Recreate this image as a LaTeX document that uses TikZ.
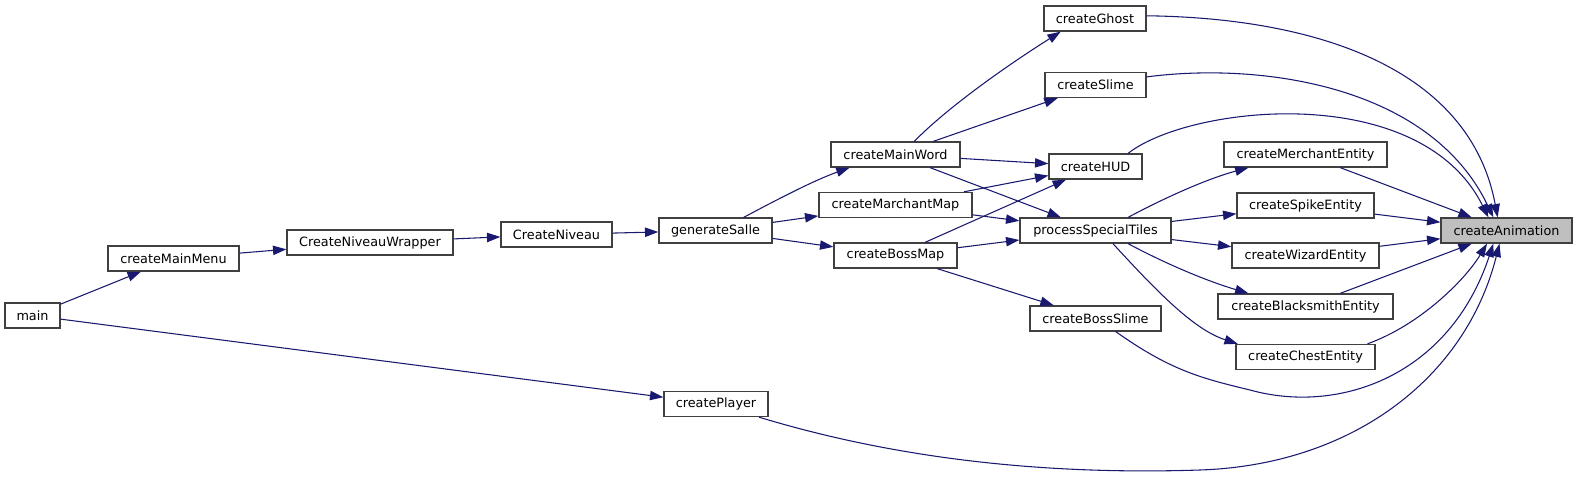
\documentclass[tikz,border=0pt]{standalone}
\usepackage{fontspec}
\setmainfont{DejaVu Sans}
\usetikzlibrary{arrows.meta}

\definecolor{edgeblue}{HTML}{191970}
\definecolor{boxgray}{HTML}{BFBFBF}

\begin{document}
\begin{tikzpicture}[>={Triangle[length=10pt,width=7pt]}, x=0.75pt, y=-0.75pt,
  fn/.style={draw=black!75, fill=white, line width=1pt, inner sep=0pt,
    minimum height=18.75pt, minimum width={#1*0.75pt},
    font=\fontsize{9.6}{11}\selectfont},
  call/.style={->, edgeblue, line width=0.8pt}]

\useasboundingbox (0,0) rectangle (1577,477);

% ============================================================
% Callers, left to right
% ============================================================
\node[fn=55]  (main)                at (32.5,315.5) {main};
\node[fn=131] (createMainMenu)      at (173.5,258.5) {createMainMenu};
\node[fn=166] (CreateNiveauWrapper) at (370,242.5) {CreateNiveauWrapper};
\node[fn=111] (CreateNiveau)        at (556.5,234.5) {CreateNiveau};
\node[fn=113] (generateSalle)       at (715.5,230.5) {generateSalle};
\node[fn=104] (createPlayer)        at (716,404) {createPlayer};

\node[fn=129] (createMainWord)    at (895.5,154.5) {createMainWord};
\node[fn=153] (createMarchantMap) at (895.5,205) {createMarchantMap};
\node[fn=123] (createBossMap)     at (895.5,255.5) {createBossMap};

\node[fn=102] (createGhost)         at (1095,18.5) {createGhost};
\node[fn=101] (createSlime)         at (1095.5,85) {createSlime};
\node[fn=93]  (createHUD)           at (1095.5,166.5) {createHUD};
\node[fn=151] (processSpecialTiles) at (1095.5,230.5) {processSpecialTiles};
\node[fn=131] (createBossSlime)     at (1095.5,318.5) {createBossSlime};

\node[fn=163] (createMerchantEntity)   at (1305.5,154.5) {createMerchantEntity};
\node[fn=137] (createSpikeEntity)      at (1305.5,205.5) {createSpikeEntity};
\node[fn=147] (createWizardEntity)     at (1305.5,255.5) {createWizardEntity};
\node[fn=175] (createBlacksmithEntity) at (1305.5,306.5) {createBlacksmithEntity};
\node[fn=139] (createChestEntity)      at (1305.5,357) {createChestEntity};

% the function itself
\node[fn=131, fill=boxgray] (createAnimation) at (1506.5,230.5) {createAnimation};

% ============================================================
% Call edges
% ============================================================
\draw[call] (main) -- (createMainMenu);
\draw[call] (main) -- (createPlayer);
\draw[call] (createMainMenu) -- (CreateNiveauWrapper);
\draw[call] (CreateNiveauWrapper) -- (CreateNiveau);
\draw[call] (CreateNiveau) -- (generateSalle);

\draw[call] (generateSalle.25) .. controls (780,198) and (815,180) .. (createMainWord.196);
\draw[call] (generateSalle) -- (createMarchantMap);
\draw[call] (generateSalle) -- (createBossMap);

\draw[call] (createMainWord.35) .. controls (945,110) and (1000,70) .. (createGhost.201);
\draw[call] (createMainWord) -- (createSlime);
\draw[call] (createMainWord) -- (createHUD);
\draw[call] (createMainWord) -- (processSpecialTiles);
\draw[call] (createMarchantMap) -- (createHUD);
\draw[call] (createMarchantMap) -- (processSpecialTiles);
\draw[call] (createBossMap) -- (createHUD);
\draw[call] (createBossMap) -- (processSpecialTiles);
\draw[call] (createBossMap) -- (createBossSlime);

\draw[call] (processSpecialTiles.22) .. controls (1170,195) and (1210,178) .. (createMerchantEntity.193);
\draw[call] (processSpecialTiles) -- (createSpikeEntity);
\draw[call] (processSpecialTiles) -- (createWizardEntity);
\draw[call] (processSpecialTiles.-22) .. controls (1170,266) and (1210,282) .. (createBlacksmithEntity.167);
\draw[call] (processSpecialTiles.-37) .. controls (1160,295) and (1195,330) .. (createChestEntity.169);

% ============================================================
% Everything into createAnimation
% ============================================================
\draw[call] (createGhost.3) .. controls (1320,18) and (1470,70) .. (createAnimation.124);
\draw[call] (createSlime.9) .. controls (1260,62) and (1430,85) .. (createAnimation.135);
\draw[call] (createHUD.22) .. controls (1190,105) and (1420,80) .. (createAnimation.144);
\draw[call] (createMerchantEntity) -- (createAnimation);
\draw[call] (createSpikeEntity) -- (createAnimation);
\draw[call] (createWizardEntity) -- (createAnimation);
\draw[call] (createBlacksmithEntity) -- (createAnimation);
\draw[call] (createChestEntity.12) .. controls (1420,325) and (1465,280) .. (createAnimation.214);
\draw[call] (createBossSlime.-33) .. controls (1170,370) and (1200,378) .. (1250,390)
  .. controls (1340,415) and (1450,375) .. (createAnimation.225);
\draw[call] (createPlayer.-17) .. controls (900,460) and (1050,475) .. (1200,470)
  .. controls (1350,465) and (1465,380) .. (createAnimation.242);

\end{tikzpicture}
\end{document}
